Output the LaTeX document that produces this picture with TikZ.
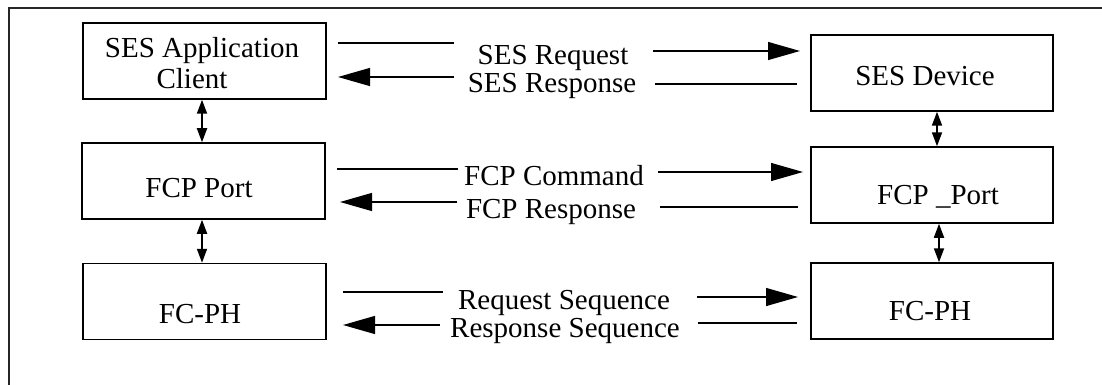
\documentclass[tikz,border=0pt]{standalone}
\usepackage{fontspec}
\setmainfont{Liberation Serif}
\usetikzlibrary{arrows.meta}
\begin{document}
\begin{tikzpicture}[x=1pt,y=-1pt,
  box/.style={draw,line width=1.5pt,minimum width=243pt,minimum height=76pt,inner sep=0pt},
  txt/.style={font=\fontsize{29}{31}\selectfont,inner sep=0pt,anchor=base},
  wire/.style={line width=1.3pt},
  bigarrow/.style={wire,-{Triangle[length=32pt,width=18pt]}},
  dblarrow/.style={line width=1.8pt,{Triangle[length=14pt,width=10pt]}-{Triangle[length=14pt,width=10pt]}},
  frame/.style={line width=1.2pt,draw=black!85}
]
\useasboundingbox (0,0) rectangle (1102,385);
% frame
\coordinate (f1) at (1102,8);
\coordinate (f2) at (9,8);
\coordinate (f3) at (9,385);
\draw[frame] (f1) -- (f2) -- (f3);

% boxes
\node[box] (L1) at (204.5,61) {};
\node[box] (L2) at (203.5,181) {};
\node[box] (L3) at (204.5,301.5) {};
\node[box,minimum width=242pt] (R1) at (932,73) {};
\node[box,minimum width=242pt] (R2) at (932,185) {};
\node[box,minimum width=242pt] (R3) at (932,301) {};

% box labels
\node[txt,align=center] (tL1) at (202,89) {SES Application\\Client\kern20pt};
\node[txt] (tL2) at (199,197) {FCP Port};
\node[txt] (tL3) at (200,323) {FC-PH};
\node[txt] (tR1) at (925,86) {SES Device};
\node[txt] (tR2) at (938,204) {FCP \_Port};
\node[txt] (tR3) at (930,320) {FC-PH};

% vertical double arrows
\coordinate (v1) at ([xshift=-2.5pt]L1.south);
\coordinate (v2) at ([xshift=-1.5pt]L2.south);
\coordinate (v3) at ([xshift=5pt]R1.south);
\coordinate (v4) at ([xshift=7pt]R2.south);
\draw[dblarrow] (v1) -- (v1 |- L2.north);
\draw[dblarrow] (v2) -- (v2 |- L3.north);
\draw[dblarrow] (v3) -- (v3 |- R2.north);
\draw[dblarrow] (v4) -- (v4 |- R3.north);

% row 1
\node[txt] (m1a) at (553,65) {SES Request};
\node[txt] (m1b) at (552,93) {SES Response};
\coordinate (a1s) at (338,43); \coordinate (a1e) at (454,43);
\coordinate (a2s) at (653,51); \coordinate (a2e) at (800,51);
\coordinate (a3s) at (454,77); \coordinate (a3e) at (338,77);
\coordinate (a4s) at (655,84); \coordinate (a4e) at (797,84);
\draw[wire] (a1s) -- (a1e);
\draw[bigarrow] (a2s) -- (a2e);
\draw[bigarrow] (a3s) -- (a3e);
\draw[wire] (a4s) -- (a4e);

% row 2
\node[txt] (m2a) at (554,185) {FCP Command};
\node[txt] (m2b) at (551,218) {FCP Response};
\coordinate (b1s) at (337,169); \coordinate (b1e) at (458,169);
\coordinate (b2s) at (658,172); \coordinate (b2e) at (803,172);
\coordinate (b3s) at (457,202); \coordinate (b3e) at (340,202);
\coordinate (b4s) at (660,207); \coordinate (b4e) at (798,207);
\draw[wire] (b1s) -- (b1e);
\draw[bigarrow] (b2s) -- (b2e);
\draw[bigarrow] (b3s) -- (b3e);
\draw[wire] (b4s) -- (b4e);

% row 3
\node[txt] (m3a) at (564,309) {Request Sequence};
\node[txt] (m3b) at (565,337) {Response Sequence};
\coordinate (c1s) at (343,292); \coordinate (c1e) at (443,292);
\coordinate (c2s) at (697,297); \coordinate (c2e) at (798,297);
\coordinate (c3s) at (440,325); \coordinate (c3e) at (343,325);
\coordinate (c4s) at (698,323); \coordinate (c4e) at (797,323);
\draw[wire] (c1s) -- (c1e);
\draw[bigarrow] (c2s) -- (c2e);
\draw[bigarrow] (c3s) -- (c3e);
\draw[wire] (c4s) -- (c4e);
\end{tikzpicture}
\end{document}
